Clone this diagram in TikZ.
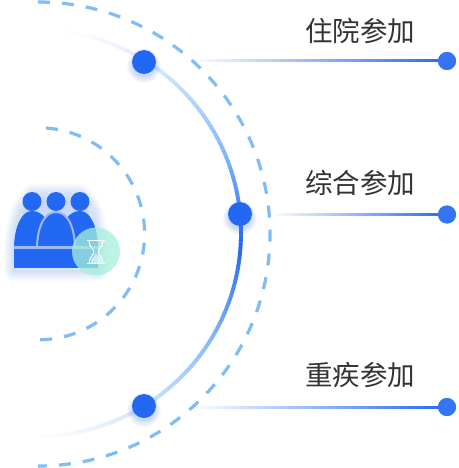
\documentclass[tikz,border=0pt]{standalone}
\usepackage{fontspec}
\newfontfamily\cjk{Noto Sans CJK SC}
\usetikzlibrary{calc}
\definecolor{mainblue}{HTML}{2368F2}
\definecolor{dashblue}{HTML}{80BDF8}
\definecolor{textgray}{HTML}{333333}
\definecolor{stripeblue}{HTML}{9DB9F7}
\definecolor{mintc}{HTML}{A6EFDC}
\definecolor{arcmid}{HTML}{84B8FA}
\tikzset{
  bigdot/.style={circle,fill=mainblue,inner sep=0pt,minimum size=24pt},
  enddot/.style={circle,fill=mainblue!92!white,inner sep=0pt,minimum size=18pt},
  dasharc/.style={dashblue,line width=3.2pt,dash pattern=on 12pt off 12pt},
  labeltext/.style={font=\cjk\fontsize{27.5}{30}\selectfont,text=textgray,inner sep=0pt},
  linkline/.style={left color=white,right color=mainblue,draw=none},
}
\newcommand{\glowdot}[2]{%
  \foreach \r in {11,12,...,17}{\fill[mainblue,opacity=0.035] (#1,#2+4) circle (\r pt);}}
\begin{document}
\begin{tikzpicture}[x=1pt,y=-1pt]
\useasboundingbox (0,0) rectangle (458,468);
\fill[white] (0,0) rectangle (458,468);
% link lines first
\node[enddot] (e1) at (447,61) {};
\node[enddot] (e2) at (447,214.5) {};
\node[enddot] (e3) at (447,407) {};
\coordinate (s1) at (190,61);
\coordinate (s2) at (270,214.5);
\coordinate (s3) at (190,407);
\shade[linkline] ($(s1)+(0,-1)$) rectangle ($(e1)+(0,1)$);
\shade[linkline] ($(s2)+(0,-1)$) rectangle ($(e2)+(0,1)$);
\shade[linkline] ($(s3)+(0,-1)$) rectangle ($(e3)+(0,1)$);
\node[enddot] at (e1) {};
\node[enddot] at (e2) {};
\node[enddot] at (e3) {};
% dashed arcs
\draw[dasharc] (38,2) arc[start angle=-90,end angle=90,x radius=232pt,y radius=-232pt];
\draw[dasharc] (46,128) arc[start angle=-86,end angle=90,x radius=106pt,y radius=-106pt];
% gradient arc
\foreach \a in {-90,-89,...,89}{
  \pgfmathsetmacro{\t}{max(0,1-abs(\a+0.5-4)/90)}
  \pgfmathsetmacro{\lo}{min(100,100*(\t/0.7)^1.6)}
  \pgfmathsetmacro{\hi}{max(0,100*(\t-0.7)/0.3)}
  \draw[mainblue!\hi!arcmid!\lo!white,line width=3.8pt] ({38+203*cos(\a)},{233+203*sin(\a)}) arc[start angle=\a,end angle=\a+1.4,x radius=203pt,y radius=-203pt];
}
% icon glow
\foreach \w in {2,4,...,20}{
  \draw[mainblue,opacity=0.02,line width=\w pt,line join=round]
    (14,271) -- (14,246) .. controls (15,225) and (20,212) .. (24,205) -- (32,194) -- (80,194) -- (90,205)
    .. controls (94,212) and (97,225) .. (98,246) -- (98,271) -- cycle;
}
\fill[mainblue!25!white] (30,196) -- (82,196) -- (90,212) -- (90,246) -- (22,246) -- (22,212) -- cycle;
% icon
\fill[mainblue] (32,201.5) circle (9.5pt) (56,201.5) circle (9.5pt) (80,201.5) circle (9.5pt);
\fill[mainblue] (14,246) .. controls (15,225) and (22,211) .. (32,211) .. controls (42,211) and (48,220) .. (52,230) -- (52,246) -- cycle;
\fill[mainblue] (98,246) .. controls (97,225) and (90,211) .. (80,211) .. controls (70,211) and (64,220) .. (60,230) -- (60,246) -- cycle;
\fill[mainblue,draw=stripeblue,line width=2pt] (37,246) .. controls (38,225) and (45,212) .. (56,212) .. controls (67,212) and (74,225) .. (75,246);
\fill[stripeblue] (14,246) rectangle (98,249);
\fill[mainblue] (14,249) rectangle (98,268);
\fill[mintc,opacity=0.75] (96,251.5) circle (24pt);
% hourglass
\draw[white,line width=1.2pt] (87,240.5) -- (105,240.5) (87,263.5) -- (105,263.5);
\draw[white,line width=1pt] (89,240.5) .. controls (89,247) and (94,249) .. (94,252) .. controls (94,255) and (89,257) .. (89,263.5);
\draw[white,line width=1pt] (103,240.5) .. controls (103,247) and (98,249) .. (98,252) .. controls (98,255) and (103,257) .. (103,263.5);
\fill[white,opacity=0.6] (90.5,263) .. controls (91,258) and (95,256) .. (96,253) .. controls (97,256) and (101,258) .. (101.5,263) -- cycle;
% dots
\glowdot{144}{62}\glowdot{240}{214}\glowdot{144}{406}
\node[bigdot] (d1) at (144,62) {};
\node[bigdot] (d2) at (240,214) {};
\node[bigdot] (d3) at (144,406) {};
% labels
\node[labeltext] (t1) at (360,31) {住院参加};
\node[labeltext] (t2) at (360,183) {综合参加};
\node[labeltext] (t3) at (360,375) {重疾参加};
\end{tikzpicture}
\end{document}
